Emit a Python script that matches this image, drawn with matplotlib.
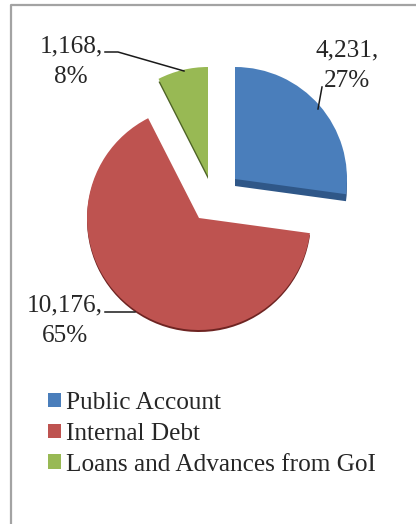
import matplotlib
matplotlib.use("Agg")
import matplotlib.pyplot as plt
from matplotlib.patches import Patch

categories = ["Public Account", "Internal Debt", "Loans and Advances from GoI"]
values = [4231, 10176, 1168]
percents = [27, 65, 8]

colors = ["#4A7EBB", "#BE5350", "#98B954"]
side_colors = ["#2F5788", "#6E2422", "#4E6326"]
W, H = 416, 524
apex_px = [(235, 179), (199, 218), (208, 176)]
radii = [112, 112, 109]
depth = [7, 2, 3]
label_px = [(347, 66), (65, 321), (71, 62)]
leaders_px = [[(322, 87), (318, 109)],
              [(105, 312), (135, 312)],
              [(105, 52), (118, 52), (184, 71)]]

plt.rcParams["font.family"] = ["Liberation Serif", "DejaVu Serif"]
fig = plt.figure(figsize=(W / 100, H / 100), dpi=100)
ax = fig.add_axes([0, 0, 1, 1])


def place(wedges, shift=None):
    for i, w in enumerate(wedges):
        dy = 0 if shift is None else shift[i]
        w.set_center((apex_px[i][0], H - apex_px[i][1] - dy))
        w.set_radius(radii[i])


back, _ = ax.pie(values, colors=side_colors, startangle=90, counterclock=False)
place(back, depth)
front, _ = ax.pie(values, colors=colors, startangle=90, counterclock=False)
place(front)

ax.set_aspect("equal")
ax.set_xlim(0, W)
ax.set_ylim(0, H)
ax.axis("off")

# chart frame
ax.plot([11, 11, W], [0, H - 4.5, H - 4.5], color="#A3A3A3", lw=1.6, clip_on=False)

for i in range(3):
    ax.text(label_px[i][0], H - label_px[i][1],
            f"{values[i]:,},\n{percents[i]}%",
            ha="center", va="center", fontsize=18.2, color="#262626", linespacing=1.5)
    xs = [p[0] for p in leaders_px[i]]
    ys = [H - p[1] for p in leaders_px[i]]
    ax.plot(xs, ys, color="#1A1A1A", lw=1.1, zorder=1 if i == 1 else 3)

handles = [Patch(facecolor=c, edgecolor="none") for c in colors]
ax.legend(handles, categories, loc="upper left", bbox_to_anchor=(48 / W, 1 - 392 / H),
          frameon=False, fontsize=18.2, labelcolor="#262626",
          handlelength=0.52, handleheight=0.52, handletextpad=0.2,
          labelspacing=0.35, borderpad=0, borderaxespad=0)

fig.savefig("out.png", dpi=100)
